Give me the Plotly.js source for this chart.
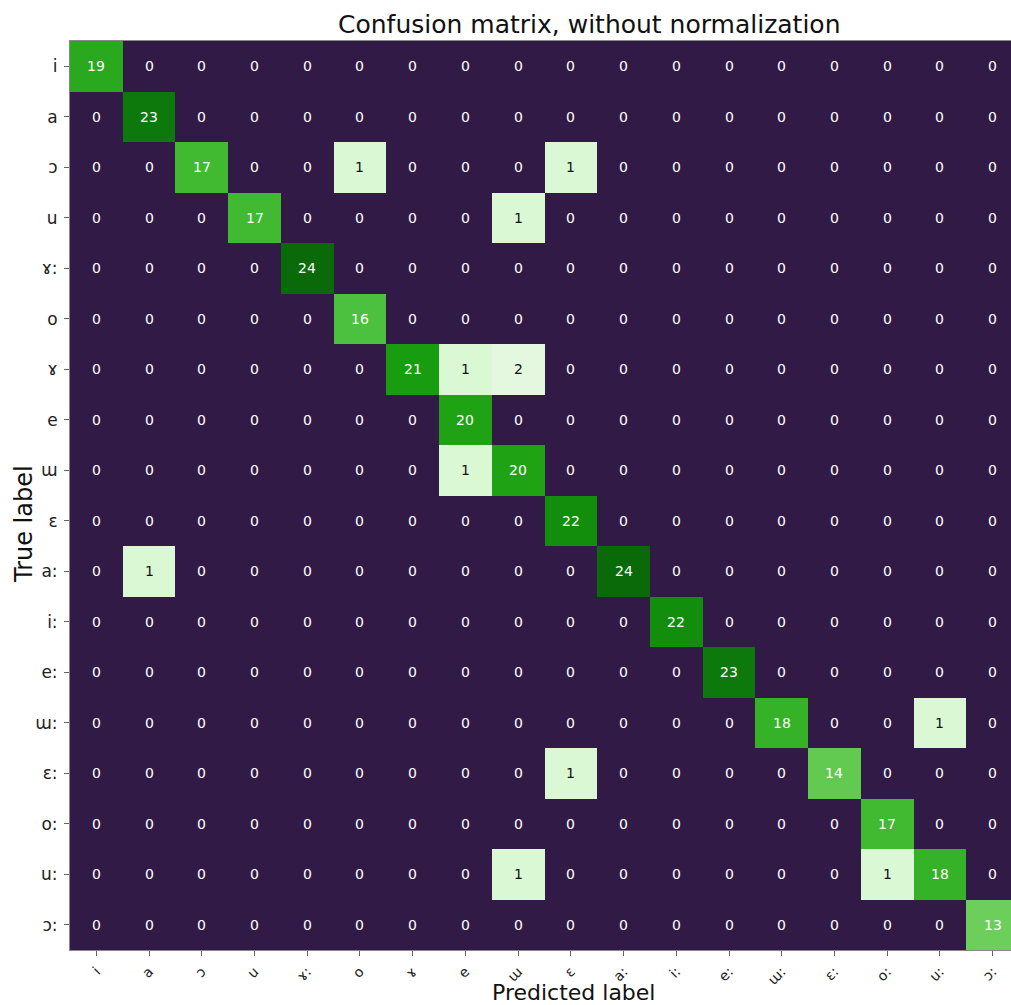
<!DOCTYPE html>
<html>
<head>
<meta charset="utf-8">
<script src="https://cdn.plot.ly/plotly-3.0.1.min.js"></script>
<style>
html,body{margin:0;padding:0;overflow:hidden;background:#fff;}
#chart{width:1020px;height:1005px;}
</style>
</head>
<body>
<div id="chart"></div>
<script>
const labels = ["i","a","ɔ","u","ɤ:","o","ɤ","e","ɯ","ɛ","a:","i:","e:","ɯ:","ɛ:","o:","u:","ɔ:"];

const row_i   = [19,0,0,0,0,0,0,0,0,0,0,0,0,0,0,0,0,0];
const row_a   = [0,23,0,0,0,0,0,0,0,0,0,0,0,0,0,0,0,0];
const row_oo  = [0,0,17,0,0,1,0,0,0,1,0,0,0,0,0,0,0,0];
const row_u   = [0,0,0,17,0,0,0,0,1,0,0,0,0,0,0,0,0,0];
const row_gL  = [0,0,0,0,24,0,0,0,0,0,0,0,0,0,0,0,0,0];
const row_o   = [0,0,0,0,0,16,0,0,0,0,0,0,0,0,0,0,0,0];
const row_g   = [0,0,0,0,0,0,21,1,2,0,0,0,0,0,0,0,0,0];
const row_e   = [0,0,0,0,0,0,0,20,0,0,0,0,0,0,0,0,0,0];
const row_w   = [0,0,0,0,0,0,0,1,20,0,0,0,0,0,0,0,0,0];
const row_eh  = [0,0,0,0,0,0,0,0,0,22,0,0,0,0,0,0,0,0];
const row_aL  = [0,1,0,0,0,0,0,0,0,0,24,0,0,0,0,0,0,0];
const row_iL  = [0,0,0,0,0,0,0,0,0,0,0,22,0,0,0,0,0,0];
const row_eL  = [0,0,0,0,0,0,0,0,0,0,0,0,23,0,0,0,0,0];
const row_wL  = [0,0,0,0,0,0,0,0,0,0,0,0,0,18,0,0,1,0];
const row_ehL = [0,0,0,0,0,0,0,0,0,1,0,0,0,0,14,0,0,0];
const row_oL  = [0,0,0,0,0,0,0,0,0,0,0,0,0,0,0,17,0,0];
const row_uL  = [0,0,0,0,0,0,0,0,1,0,0,0,0,0,0,1,18,0];
const row_ooL = [0,0,0,0,0,0,0,0,0,0,0,0,0,0,0,0,0,13];

const matrix = [row_i,row_a,row_oo,row_u,row_gL,row_o,row_g,row_e,row_w,row_eh,
                row_aL,row_iL,row_eL,row_wL,row_ehL,row_oL,row_uL,row_ooL];

const zmax = 24;
const s = v => v / zmax;
const colorscale = [
  [0, '#321a46'], [s(0.5), '#321a46'],
  [s(1), '#d9f8d3'], [s(2), '#e3f8de'],
  [s(13), '#6dcf5b'], [s(14), '#62c951'], [s(16), '#4cc03f'],
  [s(17), '#41b931'], [s(18), '#35b227'], [s(19), '#2aa91e'],
  [s(20), '#1fa315'], [s(21), '#199d10'], [s(22), '#128d0c'],
  [s(23), '#0d790c'], [1, '#0a6a0a']
];

const annotations = [];
matrix.forEach((row, r) => {
  row.forEach((v, c) => {
    annotations.push({
      x: labels[c], y: labels[r], xref: 'x', yref: 'y',
      text: String(v), showarrow: false,
      font: {family: 'DejaVu Sans', size: 14, color: (v > 0 && v < 5) ? '#111' : '#ffffff'}
    });
  });
});
annotations.push({
  text: 'Confusion matrix, without normalization', xref: 'paper', yref: 'paper',
  x: (589 - 70) / 949, y: 1, yshift: 0, yanchor: 'bottom', xanchor: 'center',
  showarrow: false, font: {family: 'DejaVu Sans', size: 25, color: '#111'}
});
annotations.push({
  text: 'Predicted label', xref: 'paper', yref: 'paper',
  x: (573 - 70) / 949, y: 0, yanchor: 'top', xanchor: 'center', yshift: -28,
  showarrow: false, font: {family: 'DejaVu Sans', size: 22, color: '#111'}
});
annotations.push({
  text: 'True label', xref: 'paper', yref: 'paper', textangle: -90,
  x: 0, xanchor: 'center', xshift: -46, y: (950 - 524) / 909, yanchor: 'middle',
  showarrow: false, font: {family: 'DejaVu Sans', size: 24, color: '#111'}
});

const trace = {
  type: 'heatmap', x: labels, y: labels, z: matrix,
  zmin: 0, zmax: zmax, colorscale: colorscale, showscale: false,
  hoverinfo: 'skip'
};

const layout = {
  width: 1020, height: 1005,
  margin: {l: 70, r: 1, t: 41, b: 55},
  paper_bgcolor: '#ffffff', plot_bgcolor: '#321a46',
  showlegend: false,
  xaxis: {
    type: 'category', tickangle: -45, ticks: 'outside', ticklen: 5, tickcolor: '#666',
    ticklabelstandoff: 2,
    tickfont: {family: 'DejaVu Sans', size: 14, color: '#222'},
    showline: true, mirror: true, linecolor: '#888', linewidth: 1,
    showgrid: false, zeroline: false, fixedrange: true
  },
  yaxis: {
    type: 'category', autorange: 'reversed', ticks: 'outside', ticklen: 5, tickcolor: '#666',
    ticklabelstandoff: 3,
    tickfont: {family: 'DejaVu Sans', size: 17, color: '#222'},
    showline: true, mirror: true, linecolor: '#888', linewidth: 1,
    showgrid: false, zeroline: false, fixedrange: true
  },
  annotations: annotations
};

Plotly.newPlot('chart', [trace], layout, {displayModeBar: false, staticPlot: true});
</script>
</body>
</html>
